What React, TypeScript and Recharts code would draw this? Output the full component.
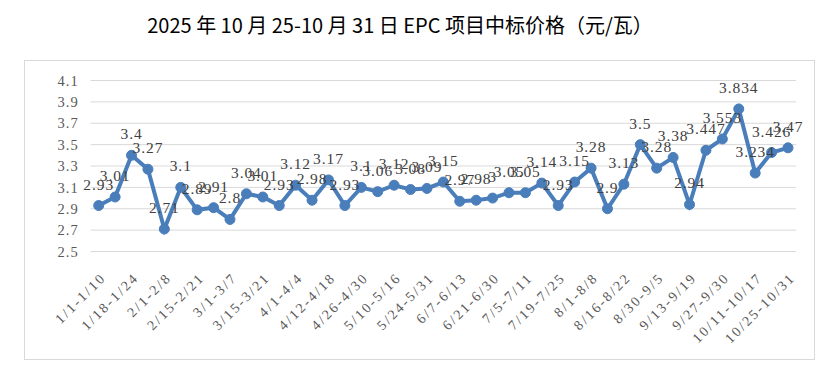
import React from "react";
import { LineChart, Line, XAxis, YAxis, CartesianGrid, LabelList } from "recharts";

const categories: string[] = [
  "1/1-1/10", "1/11-1/17", "1/18-1/24", "1/25-1/31", "2/1-2/8", "2/9-2/14", "2/15-2/21", "2/22-2/28",
  "3/1-3/7", "3/8-3/14", "3/15-3/21", "3/22-3/31", "4/1-4/4", "4/5-4/11", "4/12-4/18", "4/19-4/25",
  "4/26-4/30", "5/1-5/9", "5/10-5/16", "5/17-5/23", "5/24-5/31", "6/1-6/6", "6/7-6/13", "6/14-6/20",
  "6/21-6/30", "7/1-7/4", "7/5-7/11", "7/12-7/18", "7/19-7/25", "7/26-7/31", "8/1-8/8", "8/9-8/15",
  "8/16-8/22", "8/23-8/29", "8/30-9/5", "9/6-9/12", "9/13-9/19", "9/20-9/26", "9/27-9/30", "10/1-10/10",
  "10/11-10/17", "10/18-10/24", "10/25-10/31",
];

const prices: number[] = [
  2.93, 3.01, 3.4, 3.27, 2.71, 3.1, 2.89, 2.91, 2.8, 3.04, 3.01, 2.93, 3.12, 2.98, 3.17, 2.93,
  3.1, 3.06, 3.12, 3.08, 3.09, 3.15, 2.97, 2.98, 3, 3.05, 3.05, 3.14, 2.93, 3.15, 3.28, 2.9,
  3.13, 3.5, 3.28, 3.38, 2.94, 3.447, 3.553, 3.834, 3.234, 3.426, 3.47,
];

const yTicks: number[] = [2.5, 2.7, 2.9, 3.1, 3.3, 3.5, 3.7, 3.9, 4.1];

const title = "2025 年 10 月 25-10 月 31 日 EPC 项目中标价格（元/瓦）";

const data = categories.map((c, i) => ({ cat: c, v: prices[i] }));

const LINE_COLOR = "#4a7ebb";
const SERIF = "'Liberation Serif', 'DejaVu Serif', serif";

const XTick = (props: any) => {
  const { x, y, payload } = props;
  const px = x + 8;
  const py = y + 27;
  return (
    <text
      x={px}
      y={py}
      transform={`rotate(-45 ${px} ${py})`}
      textAnchor="end"
      fill="#595959"
      fontSize={14}
      fontFamily={SERIF}
      letterSpacing={2.2}
    >
      {payload.value}
    </text>
  );
};

export default function App() {
  return (
    <div style={{ position: "relative", width: 819, height: 364 }}>
      <div
        style={{
          position: "absolute",
          left: 0,
          top: 5,
          width: 784,
          textAlign: "center",
          fontFamily: "'Noto Sans CJK SC', 'Noto Sans', sans-serif",
          fontSize: 20,
          lineHeight: "24px",
          color: "#000",
        }}
      >
        {title}
      </div>
      <div
        style={{
          position: "absolute",
          left: 16,
          top: 52,
          width: 791,
          height: 300,
          border: "1px solid #d9d9d9",
          boxSizing: "border-box",
        }}
      />
      <div style={{ position: "absolute", left: 0, top: 0 }}>
        <LineChart
          width={819}
          height={364}
          data={data}
          margin={{ top: 72.5, right: 31, bottom: 10.5, left: 22.7 }}
        >
          <CartesianGrid horizontal={true} vertical={false} stroke="#d9d9d9" strokeWidth={1} />
          <XAxis
            dataKey="cat"
            interval={1}
            tick={<XTick />}
            tickLine={false}
            axisLine={false}
            tickSize={0}
            tickMargin={0}
            height={110}
            padding={{ left: 8, right: 8 }}
          />
          <YAxis
            domain={[2.5, 4.1]}
            ticks={yTicks}
            interval={0}
            tickFormatter={(v: number) => v.toFixed(1)}
            axisLine={false}
            tickLine={false}
            tickSize={0}
            tickMargin={12}
            width={60}
            tick={{ fill: "#595959", fontSize: 14.5, fontFamily: SERIF, letterSpacing: 1 }}
          />
          <Line
            type="linear"
            dataKey="v"
            stroke={LINE_COLOR}
            strokeWidth={4}
            dot={{ r: 5, fill: LINE_COLOR, stroke: LINE_COLOR, strokeWidth: 1 }}
            isAnimationActive={false}
          >
            <LabelList
              dataKey="v"
              position="top"
              offset={16}
              fill="#404040"
              fontSize={15.5}
              fontFamily={SERIF}
              letterSpacing={0.9}
              formatter={(v: any) => String(v)}
            />
          </Line>
        </LineChart>
      </div>
    </div>
  );
}
